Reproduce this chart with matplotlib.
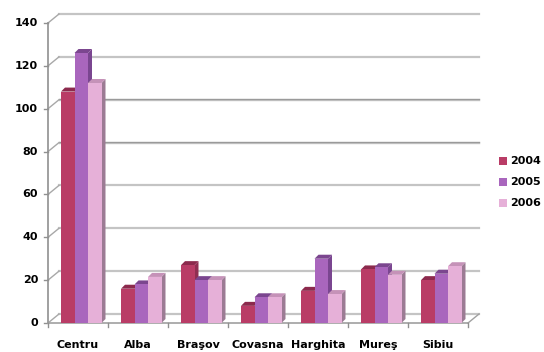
import matplotlib
matplotlib.use("Agg")
import matplotlib.pyplot as plt
from matplotlib.patches import Polygon, Rectangle

categories = ["Centru", "Alba", "Braşov", "Covasna", "Harghita", "Mureş", "Sibiu"]
years = ["2004", "2005", "2006"]
v2004 = [108, 16, 27, 8, 15, 25, 20]
v2005 = [126, 18, 20, 12, 30, 26, 23]
v2006 = [112, 21.5, 20, 12, 13.5, 22.5, 26.5]
yticks = [0, 20, 40, 60, 80, 100, 120, 140]

series = [v2004, v2005, v2006]
front = ["#b93c66", "#a966bd", "#e6b0d8"]
tops = ["#8c2a4d", "#7b468f", "#c592b8"]
sides = ["#8f2e52", "#7a4690", "#9c7b94"]

W, H = 544, 352
fig = plt.figure(figsize=(W / 100, H / 100), dpi=100)
x0, x1 = 48, 468
y0, y1 = 323, 23
ax = fig.add_axes([x0 / W, (H - y0) / H, (x1 - x0) / W, (y0 - y1) / H])
ax.set_xlim(0, 7)
ax.set_ylim(0, 140)
ax.axis("off")

pxx = 7 / (x1 - x0)      # data units per pixel (x)
pxy = 140 / (y0 - y1)    # data units per pixel (y)
wdx, wdy = 11 * pxx, 9 * pxy   # wall offset
bdx, bdy = 4 * pxx, 4 * pxy    # bar depth

# back wall gridlines and left-wall slants
for v in yticks:
    if v in (80, 100):
        ax.plot([wdx, 7 + wdx], [v + wdy - 0.5 * pxy, v + wdy - 0.5 * pxy], color="#c8c8c8",
                lw=1.0, clip_on=False, zorder=1)
        ax.plot([wdx, 7 + wdx], [v + wdy + 0.3 * pxy, v + wdy + 0.3 * pxy], color="#9a9a9a",
                lw=1.0, clip_on=False, zorder=1)
    else:
        ax.plot([wdx, 7 + wdx], [v + wdy, v + wdy], color="#c4c4c4", lw=1.6, clip_on=False, zorder=1)
    ax.plot([0, wdx], [v, v + wdy], color="#a8a8a8", lw=1.0, clip_on=False, zorder=1)
    ax.plot([-4 * pxx, 0], [v, v], color="#909090", lw=1.0, clip_on=False, zorder=1)
    ax.text(-10 * pxx, v, str(v), ha="right", va="center", fontsize=8,
            fontweight="bold", color="black")

# front axes
ax.plot([0, 0], [0, 140], color="#909090", lw=1.2, clip_on=False, zorder=2)
ax.plot([0, 7], [0, 0], color="#a0a0a0", lw=1.2, clip_on=False, zorder=2)
ax.plot([7, 7 + wdx], [0, wdy], color="#a0a0a0", lw=1.0, clip_on=False, zorder=2)
for i in range(8):
    ax.plot([i, i], [0, -4 * pxy], color="#909090", lw=1.0, clip_on=False, zorder=2)

bw = 13.5 * pxx
gstart = 13 * pxx
for i, cat in enumerate(categories):
    for k, vals in enumerate(series):
        left = i + gstart + k * bw
        v = vals[i]
        ax.bar(left, v, width=bw, align="edge", color=front[k], edgecolor="none",
               zorder=3 + k * 0.1 + i)
        top = Polygon([[left, v], [left + bw, v], [left + bw + bdx, v + bdy], [left + bdx, v + bdy]],
                      closed=True, facecolor=tops[k], edgecolor="none", zorder=3 + k * 0.1 + i - 0.01)
        side = Polygon([[left + bw, 0], [left + bw + bdx, bdy], [left + bw + bdx, v + bdy], [left + bw, v]],
                       closed=True, facecolor=sides[k], edgecolor="none", zorder=3 + k * 0.1 + i - 0.01)
        ax.add_patch(side)
        ax.add_patch(top)
    ax.text(i + 0.5, -22 * pxy, cat, ha="center", va="center", fontsize=8,
            fontweight="bold", color="black")

# legend
for k, yr in enumerate(years):
    ly = 161 + k * 21
    fig.patches.append(Rectangle((499 / W, (H - ly - 4) / H), 8 / W, 8 / H,
                                 transform=fig.transFigure, facecolor=front[k], edgecolor="none"))
    fig.text(510 / W, (H - ly) / H, yr, ha="left", va="center", fontsize=8,
             fontweight="bold", color="black")

fig.savefig("out.png", dpi=100)
